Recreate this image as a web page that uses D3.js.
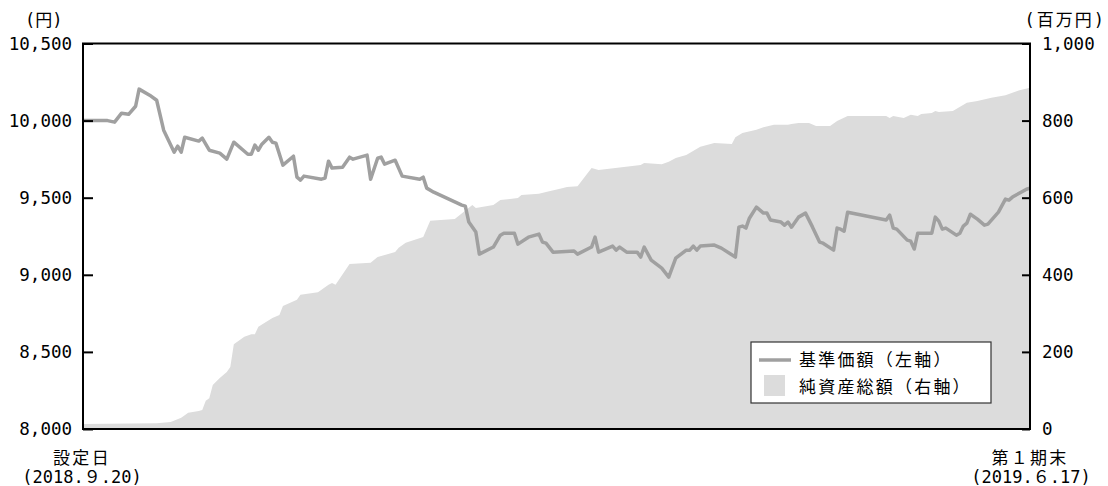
<!DOCTYPE html>
<html>
<head>
<meta charset="utf-8">
<script src="https://cdn.jsdelivr.net/npm/d3@7"></script>
<style>
  body { margin: 0; background: #fff; }
  svg text { font-family: "DejaVu Sans Mono", "Noto Sans CJK JP", monospace; fill: #000; }
</style>
</head>
<body>
<div id="chart"></div>
<script>
// days since 2018-09-20 (setting date) and NAV per 10,000 units (yen)
var navDays = [0, 7, 9, 11, 13, 15, 16, 19, 21, 23, 26, 27, 28, 29, 33, 34, 36, 39, 41, 43, 47, 48, 49, 50, 51, 53, 54, 55, 57, 60,
  61, 62, 63, 68, 69, 70, 71, 74, 76, 77, 81, 82, 84, 85, 86, 89, 91, 96, 97, 98, 100, 108, 109, 110, 112, 113, 117, 119, 120, 123,
  124, 127, 130, 131, 132, 134, 140, 141, 145, 146, 147, 151, 152, 153, 155, 158, 159, 160, 162, 165, 167, 169, 172, 173, 174, 175, 176, 180, 182, 186,
  187, 188, 189, 190, 192, 194, 195, 196, 199, 200, 201, 202, 204, 206, 208, 210, 211, 214, 215, 216, 217, 218, 229, 230, 231, 232, 235, 236, 237, 238,
  242, 243, 244, 245, 246, 249, 250, 251, 252, 253, 255, 257, 258, 261, 263, 264, 265, 269, 270];
var navValues = [10000, 10000, 9990, 10048, 10041, 10093, 10204, 10165, 10132, 9938, 9795, 9834, 9795, 9892, 9867, 9886, 9808, 9789, 9750, 9860, 9782, 9782, 9841, 9808, 9847, 9892, 9860, 9854, 9711, 9769,
  9633, 9614, 9640, 9620, 9627, 9737, 9692, 9698, 9763, 9750, 9776, 9620, 9756, 9763, 9717, 9743, 9640, 9620, 9633, 9562, 9536, 9452, 9445, 9342, 9277, 9134, 9180, 9257, 9270, 9270,
  9199, 9244, 9264, 9212, 9205, 9147, 9154, 9134, 9180, 9244, 9147, 9186, 9160, 9180, 9147, 9147, 9115, 9180, 9095, 9043, 8985, 9108, 9160, 9160, 9186, 9160, 9186, 9193, 9173, 9115,
  9309, 9316, 9303, 9367, 9439, 9400, 9400, 9355, 9342, 9322, 9342, 9309, 9374, 9400, 9309, 9212, 9205, 9160, 9303, 9296, 9283, 9406, 9355, 9387, 9303, 9296, 9225, 9218, 9167, 9270,
  9270, 9374, 9348, 9296, 9303, 9257, 9270, 9316, 9335, 9393, 9361, 9322, 9329, 9406, 9491, 9484, 9504, 9555, 9562];

// days since setting date and net assets (million yen)
var assetDays = [0, 21, 25, 28, 30, 33, 34, 35, 36, 37, 39, 41, 42, 43, 46, 48, 49, 50, 54, 56, 57, 61, 62, 67, 70, 71, 72, 76, 82, 84,
  89, 90, 92, 97, 99, 106, 111, 112, 117, 119, 124, 125, 130, 132, 136, 138, 141, 145, 147, 159, 160, 165, 167, 169, 172, 176, 180, 185, 186, 188,
  192, 194, 197, 201, 202, 204, 207, 209, 213, 215, 218, 229, 230, 231, 234, 236, 238, 239, 242, 243, 244, 248, 252, 255, 259, 263, 267, 270];
var assetValues = [13, 15, 18, 29, 42, 47, 49, 73, 80, 114, 132, 148, 161, 220, 239, 246, 246, 265, 288, 296, 319, 335, 348, 355, 374, 379, 374, 428, 431, 446,
  459, 470, 483, 498, 540, 545, 581, 573, 581, 594, 599, 607, 610, 615, 623, 628, 630, 677, 672, 685, 690, 687, 693, 703, 711, 732, 742, 739, 757, 768,
  776, 783, 789, 789, 791, 794, 794, 786, 786, 799, 812, 812, 807, 812, 807, 815, 812, 817, 820, 825, 822, 825, 846, 851, 859, 866, 879, 885];

var leftTicks = [8000, 8500, 9000, 9500, 10000, 10500];
var rightTicks = [0, 200, 400, 600, 800, 1000];

var startDate = new Date(2018, 8, 20);
var endDate = new Date(2019, 5, 17);

var width = 1108, height = 486;
var plotLeft = 83, plotRight = 1030, plotTop = 43.5, plotBottom = 429;

var svg = d3.select("#chart").append("svg")
  .attr("width", width)
  .attr("height", height);

var x = d3.scaleTime().domain([startDate, endDate]).range([plotLeft, plotRight]);
var yL = d3.scaleLinear().domain([8000, 10500]).range([plotBottom, plotTop]);
var yR = d3.scaleLinear().domain([0, 1000]).range([plotBottom, plotTop]);

function day(d) { return d3.timeDay.offset(startDate, d); }

// net assets area (right axis)
var area = d3.area()
  .x(function(d, i) { return x(day(assetDays[i])); })
  .y0(plotBottom)
  .y1(function(d) { return yR(d); });
svg.append("path")
  .datum(assetValues)
  .attr("d", area)
  .attr("fill", "#dcdcdc");

// NAV line (left axis)
var line = d3.line()
  .x(function(d, i) { return x(day(navDays[i])); })
  .y(function(d) { return yL(d); });
svg.append("path")
  .datum(navValues)
  .attr("d", line)
  .attr("fill", "none")
  .attr("stroke", "#a0a0a0")
  .attr("stroke-width", 3.5)
  .attr("stroke-linejoin", "round");

// frame
svg.append("rect")
  .attr("x", plotLeft)
  .attr("y", plotTop)
  .attr("width", plotRight - plotLeft)
  .attr("height", plotBottom - plotTop)
  .attr("fill", "none")
  .attr("stroke", "#000")
  .attr("stroke-width", 2);

var fmt = d3.format(",");

var gl = svg.append("g")
  .attr("transform", "translate(" + plotLeft + ",0)")
  .call(d3.axisLeft(yL).tickValues(leftTicks).tickFormat(fmt).tickSizeInner(-10).tickSizeOuter(0).tickPadding(11));
var gr = svg.append("g")
  .attr("transform", "translate(" + plotRight + ",0)")
  .call(d3.axisRight(yR).tickValues(rightTicks).tickFormat(fmt).tickSizeInner(-8).tickSizeOuter(0).tickPadding(12));
[gl, gr].forEach(function(g) {
  g.select(".domain").remove();
  g.selectAll(".tick line").attr("stroke", "#000").attr("stroke-width", 2);
  g.selectAll(".tick text").attr("font-size", 17.5).attr("fill", "#000")
    .style("font-family", "'DejaVu Sans Mono', 'Noto Sans CJK JP', monospace");
});

// unit labels
svg.append("text").attr("x", 25).attr("y", 26)
  .attr("font-size", 17).text("(円)");
svg.append("text").attr("x", 1106).attr("y", 26)
  .attr("font-size", 17).attr("text-anchor", "end").attr("letter-spacing", 2).text("(百万円)");

// date labels
svg.append("text").attr("x", 82).attr("y", 464)
  .attr("font-size", 17).attr("text-anchor", "middle").attr("letter-spacing", 2.3).text("設定日");
svg.append("text").attr("x", 82).attr("y", 483)
  .attr("font-size", 17).attr("text-anchor", "middle").text("(2018.９.20)");
svg.append("text").attr("x", 1030).attr("y", 464)
  .attr("font-size", 17).attr("text-anchor", "middle").attr("letter-spacing", 2.3).text("第１期末");
svg.append("text").attr("x", 1031).attr("y", 483)
  .attr("font-size", 17).attr("text-anchor", "middle").text("(2019.６.17)");

// legend
var lg = svg.append("g");
lg.append("rect")
  .attr("x", 751).attr("y", 342).attr("width", 240).attr("height", 61)
  .attr("fill", "#fff").attr("stroke", "#333").attr("stroke-width", 1.2);
lg.append("line")
  .attr("x1", 759).attr("x2", 791).attr("y1", 360).attr("y2", 360)
  .attr("stroke", "#a0a0a0").attr("stroke-width", 3.5);
lg.append("rect")
  .attr("x", 764).attr("y", 375).attr("width", 21).attr("height", 21)
  .attr("fill", "#dcdcdc");
lg.append("text").attr("x", 799).attr("y", 366)
  .attr("font-size", 17).attr("letter-spacing", 2.2).text("基準価額（左軸）");
lg.append("text").attr("x", 799).attr("y", 393)
  .attr("font-size", 17).attr("letter-spacing", 2.2).text("純資産総額（右軸）");
</script>
</body>
</html>
